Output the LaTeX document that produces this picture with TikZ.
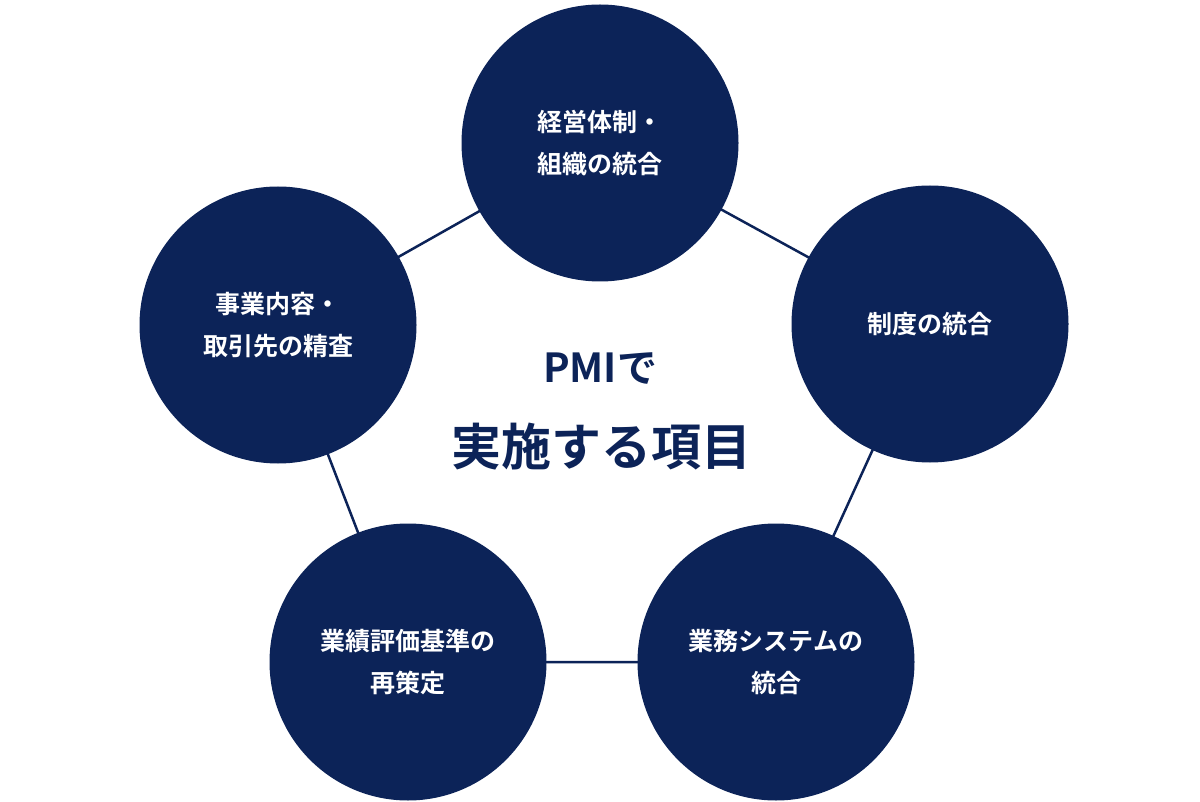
\documentclass[tikz,border=0pt]{standalone}
\usepackage{fontspec}
\newfontfamily\jp{Noto Sans CJK JP}[BoldFont={* Bold}]
\definecolor{navy}{HTML}{0C2358}
\begin{document}
\begin{tikzpicture}[x=1pt,y=-1pt,
  circ/.style={circle,fill=navy,minimum size=277pt,inner sep=0pt,text=white,align=center,font=\jp\bfseries\fontsize{25}{42}\selectfont},
  link/.style={draw=navy,line width=2.5pt}]
\useasboundingbox (0,0) rectangle (1200,802);
\coordinate (ct) at (600,143);
\coordinate (cr) at (930,324);
\coordinate (cbr) at (776,662);
\coordinate (cbl) at (408,662);
\coordinate (cl) at (278,325);
\draw[link] (ct)--(cr)--(cbr)--(cbl)--(cl)--cycle;
\node[circ] (t) at (ct) {経営体制・\\組織の統合};
\node[circ] (r) at (cr) {制度の統合};
\node[circ] (br) at (cbr) {業務システムの\\統合};
\node[circ] (bl) at (cbl) {業績評価基準の\\再策定};
\node[circ] (l) at (cl) {事業内容・\\取引先の精査};
\node[text=navy,font=\jp\bfseries\fontsize{40}{40}\selectfont] (c1) at (600,368) {PMIで};
\node[text=navy,font=\jp\bfseries\fontsize{50}{50}\selectfont] (c2) at (601,447) {実施する項目};
\end{tikzpicture}
\end{document}
